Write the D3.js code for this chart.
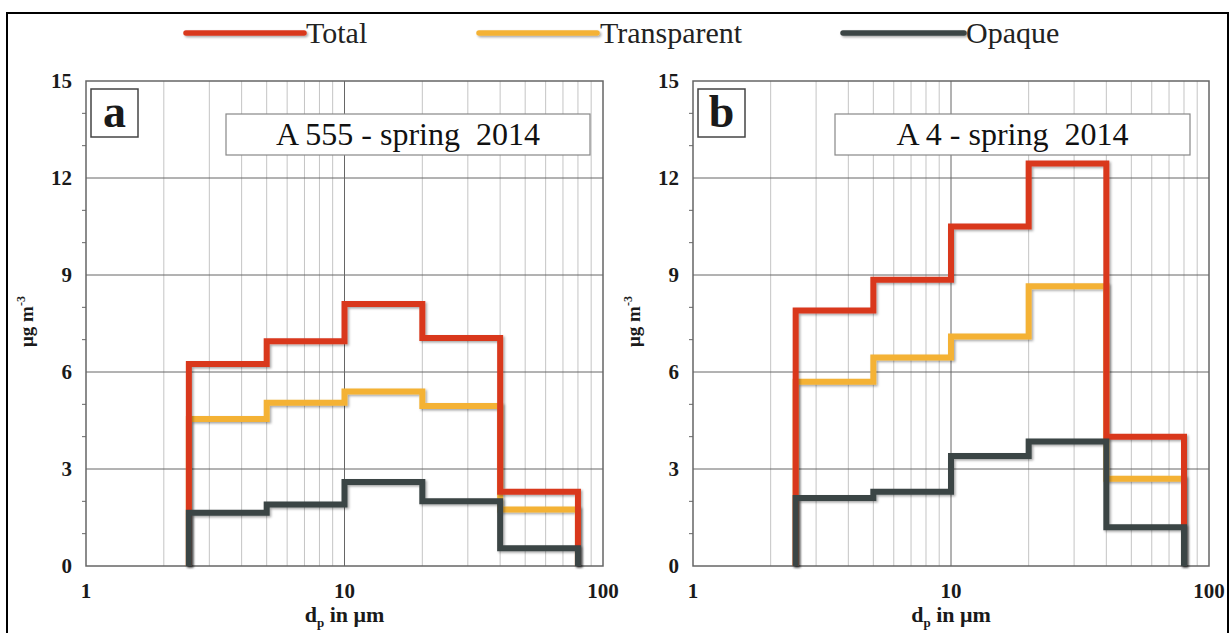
<!DOCTYPE html>
<html><head><meta charset="utf-8">
<script src="https://cdn.jsdelivr.net/npm/d3@7"></script>
<style>
html,body{margin:0;padding:0;background:#fff;}
svg{display:block;}
text{font-family:"Liberation Serif","Times New Roman",Times,serif;}
.bold{font-weight:bold;fill:#1a1a1a;}
</style></head>
<body>
<svg id="chart" width="1231" height="633"></svg>
<script>
// ---- data ----
const binEdges = [2.5, 5, 10, 20, 40, 80];
const seriesNames = ["Total", "Transparent", "Opaque"];
const seriesColors = ["#d9391f", "#f4b234", "#3b4444"];
const panelATitle = "A 555 - spring  2014";
const panelBTitle = "A 4 - spring  2014";
const panelATotal = [6.25, 6.95, 8.1, 7.05, 2.3];
const panelATransparent = [4.55, 5.05, 5.4, 4.95, 1.75];
const panelAOpaque = [1.65, 1.9, 2.6, 2.0, 0.55];
const panelBTotal = [7.9, 8.85, 10.5, 12.45, 4.0];
const panelBTransparent = [5.7, 6.45, 7.1, 8.65, 2.7];
const panelBOpaque = [2.1, 2.3, 3.4, 3.85, 1.2];
const yTicks = [0, 3, 6, 9, 12, 15];
const xTicks = [1, 10, 100];

const FONT = "'Liberation Serif', 'Times New Roman', Times, serif";
const svg = d3.select("#chart");
const defs = svg.append("defs");
const f = defs.append("filter").attr("id","shadow").attr("filterUnits","userSpaceOnUse")
  .attr("x",0).attr("y",0).attr("width",1231).attr("height",633);
f.append("feDropShadow").attr("dx",1.5).attr("dy",1.5).attr("stdDeviation",1.2).attr("flood-color","#000").attr("flood-opacity",0.35);

// outer frame
svg.append("rect").attr("x",7).attr("y",13).attr("width",1221).attr("height",640)
  .attr("fill","none").attr("stroke","#000").attr("stroke-width",2);

// legend
const legendItems = [
  {x1:186, x2:304, tx:306},
  {x1:479, x2:597, tx:600},
  {x1:843, x2:964, tx:966}
];
seriesNames.forEach((n,i)=>{
  const L = legendItems[i];
  svg.append("line").attr("x1",L.x1).attr("x2",L.x2).attr("y1",33).attr("y2",33)
    .attr("stroke",seriesColors[i]).attr("stroke-width",5.5).attr("stroke-linecap","round")
    .attr("filter","url(#shadow)");
  svg.append("text").attr("x",L.tx).attr("y",43).attr("font-family",FONT).attr("font-size",30).attr("fill","#222").text(n);
});

function panel(opt){
  const x = d3.scaleLog().domain([1,100]).range([opt.left, opt.right]);
  const y = d3.scaleLinear().domain([0,15]).range([566, 81]);
  const g = svg.append("g").attr("font-family",FONT);
  // minor vertical grid
  const minors = [];
  for (let d of [1,10]) for (let k=2;k<=9;k++) minors.push(d*k);
  g.selectAll(".vmin").data(minors).join("line")
    .attr("x1",d=>x(d)).attr("x2",d=>x(d)).attr("y1",y(0)).attr("y2",y(15))
    .attr("stroke","#c4c4c4").attr("stroke-width",1);
  g.append("line").attr("x1",x(10)).attr("x2",x(10)).attr("y1",y(0)).attr("y2",y(15))
    .attr("stroke","#666").attr("stroke-width",1);
  g.selectAll(".hmaj").data(yTicks.filter(t=>t>0&&t<15)).join("line")
    .attr("x1",x(1)).attr("x2",x(100)).attr("y1",d=>y(d)).attr("y2",d=>y(d))
    .attr("stroke","#666").attr("stroke-width",1);
  // frame
  g.append("rect").attr("x",x(1)).attr("y",y(15)).attr("width",x(100)-x(1)).attr("height",y(0)-y(15))
    .attr("fill","none").attr("stroke","#666").attr("stroke-width",1.5);
  // minor y ticks
  const ym = d3.range(1,15).filter(v=>v%3!==0);
  g.selectAll(".ymt").data(ym).join("line")
    .attr("x1",x(1)-4).attr("x2",x(1)).attr("y1",d=>y(d)).attr("y2",d=>y(d))
    .attr("stroke","#666").attr("stroke-width",1);
  // y tick labels
  g.selectAll(".ytl").data(yTicks).join("text").attr("class","bold")
    .attr("x",x(1)-14).attr("y",d=>y(d)+7).attr("text-anchor","end")
    .attr("font-size",21).text(d=>d);
  // x tick labels
  g.selectAll(".xtl").data(xTicks).join("text").attr("class","bold")
    .attr("x",d=>x(d)).attr("y",598).attr("text-anchor","middle")
    .attr("font-size",21).text(d=>d);
  // x label
  const xl = g.append("text").attr("class","bold").attr("x",(x(1)+x(100))/2).attr("y",622).attr("text-anchor","middle")
    .attr("font-size",22);
  xl.append("tspan").text("d");
  xl.append("tspan").attr("font-size",13).attr("dy",5).text("p");
  xl.append("tspan").attr("dy",-5).text(" in μm");
  // y label
  const yl = g.append("text").attr("class","bold").attr("transform",`translate(${opt.ylabX},${(y(0)+y(15))/2 - 2}) rotate(-90)`)
    .attr("text-anchor","middle").attr("font-size",19);
  yl.append("tspan").text("μg m");
  yl.append("tspan").attr("font-size",12).attr("dy",-8).text("-3");

  // title box
  g.append("rect").attr("x",opt.tb[0]).attr("y",114).attr("width",opt.tb[1]-opt.tb[0]).attr("height",41)
    .attr("fill","#fff").attr("stroke","#888").attr("stroke-width",1.2);
  g.append("text").attr("x",(opt.tb[0]+opt.tb[1])/2).attr("y",145).attr("text-anchor","middle")
    .attr("font-size",32).attr("fill","#111").style("white-space","pre").text(opt.title);
  // letter box
  g.append("rect").attr("x",x(1)+5).attr("y",89).attr("width",47).attr("height",48)
    .attr("fill","#fff").attr("stroke","#444").attr("stroke-width",1.5);
  g.append("text").attr("class","bold").attr("x",x(1)+28.5).attr("y",127).attr("text-anchor","middle")
    .attr("font-size",46).text(opt.letter);

  // series step lines (order: transparent, total, opaque)
  const line = d3.line().x(d=>x(d[0])).y(d=>y(d[1]));
  function stepPts(vals){
    const pts = [[binEdges[0],0]];
    vals.forEach((v,i)=>{ pts.push([binEdges[i],v]); pts.push([binEdges[i+1],v]); });
    pts.push([binEdges[binEdges.length-1],0]);
    return pts;
  }
  [1,0,2].forEach(i=>{
    g.append("path").attr("d",line(stepPts(opt.series[i]))).attr("fill","none")
      .attr("stroke",seriesColors[i]).attr("stroke-width",6).attr("stroke-linejoin","miter")
      .attr("filter","url(#shadow)");
  });
}

panel({left:86, right:603, ylabX:33, tb:[226,590], title:panelATitle, letter:"a",
  series:[panelATotal, panelATransparent, panelAOpaque]});
panel({left:693, right:1209, ylabX:640, tb:[835,1190], title:panelBTitle, letter:"b",
  series:[panelBTotal, panelBTransparent, panelBOpaque]});
</script>
</body></html>
